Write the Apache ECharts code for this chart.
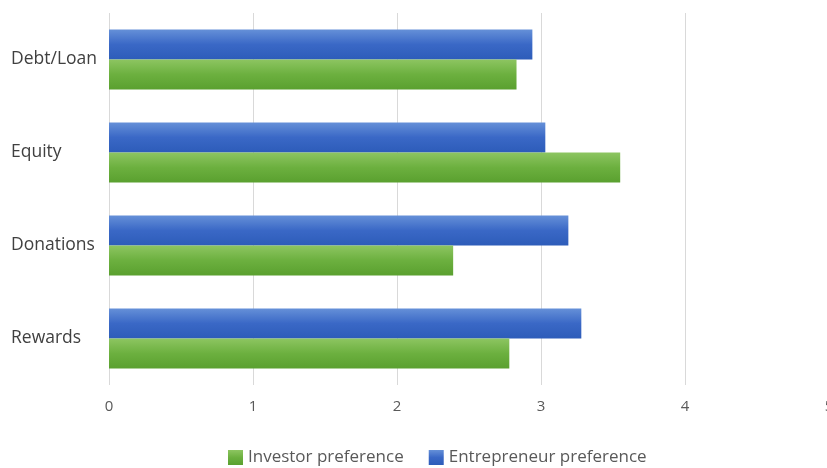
<!DOCTYPE html>
<html>
<head>
<meta charset="utf-8">
<script src="https://cdn.jsdelivr.net/npm/echarts@6/dist/echarts.min.js"></script>
<style>
  html, body { margin: 0; padding: 0; background: #fff; }
  #chart { width: 827px; height: 468px; }
</style>
</head>
<body>
<div id="chart"></div>
<script>
// data
const categories = ['Debt/Loan', 'Equity', 'Donations', 'Rewards'];
const investorPref = [2.83, 3.55, 2.39, 2.78];
const entrepreneurPref = [2.94, 3.03, 3.19, 3.28];
const xTicks = [0, 1, 2, 3, 4, 5];

const chart = echarts.init(document.getElementById('chart'));

// vertical gradient, lighter on top like the office-style bars
function barGrad(top, mid, bottom) {
  return new echarts.graphic.LinearGradient(0, 0, 0, 1, [
    { offset: 0, color: top },
    { offset: 0.5, color: mid },
    { offset: 1, color: bottom }
  ]);
}

const option = {
  animation: false,
  textStyle: { fontFamily: 'Open Sans' },
  grid: {
    left: 109,
    top: 13,
    width: 720,
    height: 372,
    outerBoundsMode: 'none', // the "5" column runs past the right edge, like the source
    containLabel: false
  },
  legend: {
    top: 444,
    left: 223,
    icon: 'rect',
    itemWidth: 15,
    itemHeight: 15,
    itemGap: 25,
    textStyle: { color: '#595959', fontSize: 17 },
    data: ['Investor preference', 'Entrepreneur preference']
  },
  xAxis: {
    type: 'value',
    min: xTicks[0],
    max: xTicks[xTicks.length - 1],
    interval: 1,
    axisLine: { show: false },
    axisTick: { show: false },
    axisLabel: { color: '#595959', fontSize: 15, margin: 14 },
    splitLine: { show: true, lineStyle: { color: '#d9d9d9', width: 1 } }
  },
  yAxis: {
    type: 'category',
    inverse: true,
    data: categories,
    axisLine: { show: false },
    axisTick: { show: false },
    axisLabel: {
      color: '#404040',
      fontSize: 17.5,
      align: 'left',
      margin: 98
    }
  },
  series: [
    {
      name: 'Entrepreneur preference',
      type: 'bar',
      barWidth: 30,
      barGap: '0%',
      itemStyle: { color: barGrad('#6590d8', '#3a68c6', '#2d5cb9') },
      data: entrepreneurPref
    },
    {
      name: 'Investor preference',
      type: 'bar',
      barWidth: 30,
      barGap: '0%',
      itemStyle: { color: barGrad('#8dc561', '#6cb03f', '#5aa02f') },
      data: investorPref
    }
  ]
};

chart.setOption(option);
</script>
</body>
</html>
